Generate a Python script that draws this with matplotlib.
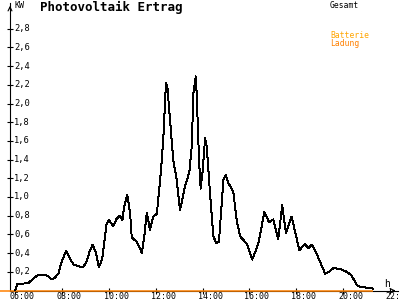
import matplotlib
matplotlib.use("Agg")
import matplotlib.pyplot as plt
import numpy as np

# power over the day, hours / kW
hours = [6.00, 6.10, 6.21, 6.57, 6.85, 6.95, 7.21, 7.28, 7.42, 7.57, 7.71, 7.85,
         7.99, 8.18, 8.35, 8.49, 8.70, 8.91, 9.06, 9.17, 9.31, 9.46, 9.58, 9.72,
         9.91, 10.01, 10.19, 10.34, 10.48, 10.58, 10.66, 10.79, 10.91, 10.98,
         11.19, 11.30, 11.41, 11.52, 11.62, 11.76, 11.90, 12.05, 12.11, 12.23,
         12.33, 12.44, 12.50, 12.58, 12.75, 12.90, 13.04, 13.25, 13.44, 13.54,
         13.61, 13.71, 13.75, 13.85, 13.92, 14.01, 14.11, 14.18, 14.32, 14.46,
         14.58, 14.70, 14.89, 14.99, 15.10, 15.31, 15.46, 15.60, 15.89, 16.12,
         16.38, 16.64, 16.84, 17.02, 17.23, 17.40, 17.56, 17.80, 17.95, 18.13,
         18.37, 18.51, 18.66, 18.80, 19.01, 19.23, 19.41, 19.58, 19.87, 20.15,
         20.36, 20.58, 20.72, 21.00, 21.29]
kw = [0.00, 0.07, 0.07, 0.08, 0.14, 0.16, 0.17, 0.17, 0.15, 0.12, 0.14, 0.18,
      0.31, 0.42, 0.34, 0.28, 0.26, 0.25, 0.31, 0.41, 0.49, 0.40, 0.25, 0.34,
      0.72, 0.75, 0.69, 0.77, 0.80, 0.75, 0.90, 1.02, 0.83, 0.57,
      0.52, 0.47, 0.40, 0.59, 0.83, 0.65, 0.79, 0.82, 0.97, 1.29,
      1.64, 2.22, 2.18, 1.93, 1.40, 1.18, 0.86, 1.11, 1.27, 1.54,
      2.11, 2.29, 2.11, 1.40, 1.09, 1.29, 1.63, 1.54, 1.04, 0.58,
      0.51, 0.52, 1.18, 1.24, 1.15, 1.06, 0.75, 0.58, 0.50, 0.33,
      0.50, 0.84, 0.73, 0.76, 0.55, 0.91, 0.61, 0.79, 0.63, 0.43,
      0.50, 0.45, 0.49, 0.43, 0.31, 0.18, 0.20, 0.24, 0.23, 0.20,
      0.16, 0.06, 0.04, 0.03, 0.02]

# battery charging series (flat zero)
batt_hours = [5.36, 21.29]
batt_kw = [0.0, 0.0]

y_ticks = [0.2, 0.4, 0.6, 0.8, 1.0, 1.2, 1.4, 1.6, 1.8, 2.0, 2.2, 2.4, 2.6, 2.8]
x_ticks = [6, 8, 10, 12, 14, 16, 18, 20, 22]
x_labels = ["06:00", "08:00", "10:00", "12:00", "14:00", "16:00", "18:00", "20:00", "22:"]

plt.rcParams['font.family'] = ['DejaVu Sans Mono']

fig = plt.figure(figsize=(4, 3), dpi=100)
fig.patch.set_facecolor('white')
# axes in pixels: left 10, right 398, bottom 290.5, top 3
ax = fig.add_axes([10/400, 9.5/300, 388/400, 287.5/300])
px_h = 23.44   # pixels per hour
px_kw = 93.5   # pixels per kW
ax.set_xlim(6 - 5/px_h, 6 + 383/px_h)
ax.set_ylim(0, 287.5/px_kw)
ax.set_facecolor('none')

for s in ['top', 'right']:
    ax.spines[s].set_visible(False)
for s in ['left', 'bottom']:
    ax.spines[s].set_linewidth(0.8)
    ax.spines[s].set_color('black')

ax.set_xticks(x_ticks)
ax.set_yticks(y_ticks)
ax.tick_params(direction='inout', length=5, width=0.8, labelleft=False, labelbottom=False)

# arrow heads
ax.annotate('', xy=(0, 1.0), xytext=(0, 0.97), xycoords='axes fraction',
            arrowprops=dict(arrowstyle='->', lw=0.8, color='black',
                            mutation_scale=7), annotation_clip=False)
ax.annotate('', xy=(1.0, 0), xytext=(0.98, 0), xycoords='axes fraction',
            arrowprops=dict(arrowstyle='->', lw=0.8, color='black',
                            mutation_scale=7), annotation_clip=False)

ytr = ax.get_yaxis_transform()
for v in y_ticks:
    ax.text(4/388, v, ('%.1f' % v).replace('.', ','), transform=ytr,
            fontsize=6.3, ha='left', va='center')

xtr = ax.get_xaxis_transform()
for v, lab in zip(x_ticks, x_labels):
    ax.text(v - 5/px_h, -1.5/287.5, lab, transform=xtr, fontsize=6,
            ha='left', va='top', clip_on=False)

ax.plot(batt_hours, batt_kw, color='#ff8000', lw=1.1, clip_on=False, zorder=4,
        solid_capstyle='butt')
ax.plot(hours, kw, color='black', lw=0.7, antialiased=False, zorder=5)

fig.text(14/400, 1 - 1/300, 'KW', fontsize=6, ha='left', va='top')
fig.text(384/400, 1 - 279/300, 'h', fontsize=7, ha='left', va='top')
fig.text(40/400, 1 - 1/300, 'Photovoltaik Ertrag', fontsize=9, fontweight='bold',
         ha='left', va='top')
fig.text(330/400, 1 - 1/300, 'Gesamt', fontsize=5.8, ha='left', va='top')
fig.text(330/400, 1 - 31/300, 'Batterie', fontsize=5.8, ha='left', va='top',
         color='#ffa500')
fig.text(330/400, 1 - 39/300, 'Ladung', fontsize=5.8, ha='left', va='top',
         color='#ff8000')

fig.savefig('out.png', dpi=100)
